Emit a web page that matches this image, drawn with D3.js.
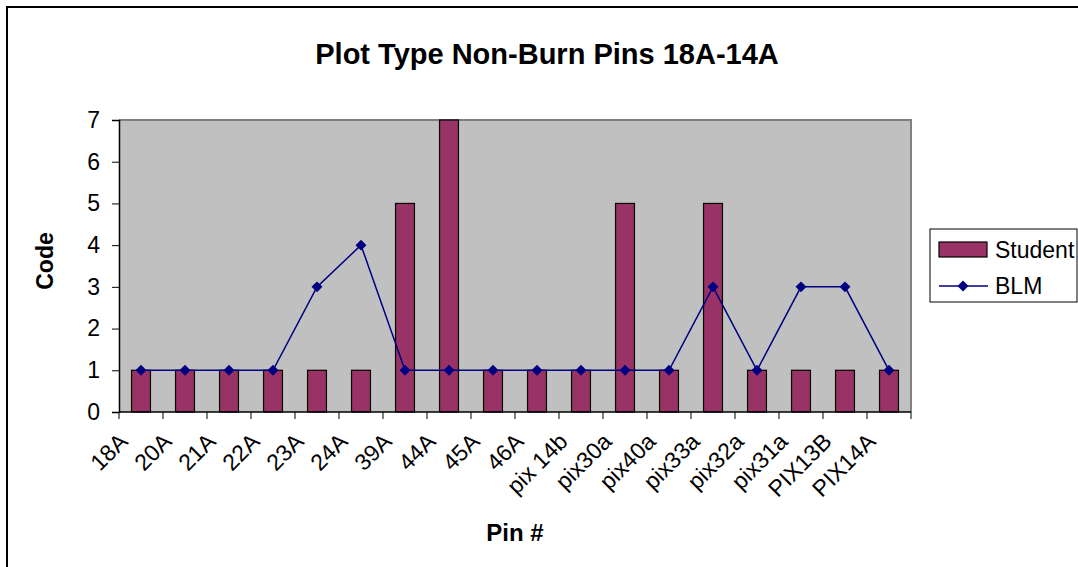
<!DOCTYPE html>
<html>
<head>
<meta charset="utf-8">
<script src="https://d3js.org/d3.v7.min.js"></script>
<style>
  body { margin: 0; background: #fff; }
  svg { display: block; font-family: Arial, "Liberation Sans", sans-serif; }
</style>
</head>
<body>
<svg id="chart"></svg>
<script>
    // chart data
    var pins = ["18A", "20A", "21A", "22A", "23A", "24A", "39A", "44A", "45A", "46A",
        "pix 14b", "pix30a", "pix40a", "pix33a", "pix32a", "pix31a", "PIX13B", "PIX14A"];
    var student = [1, 1, 1, 1, 1, 1, 5, 7, 1, 1, 1, 5, 1, 5, 1, 1, 1, 1];
    var blm = [1, 1, 1, 1, 3, 4, 1, 1, 1, 1, 1, 1, 1, 3, 1, 3, 3, 1];
    var yTicks = [0, 1, 2, 3, 4, 5, 6, 7];
    var seriesNames = ["Student", "BLM"];

    var width = 1078, height = 567;
    var plot = { left: 119, top: 120, right: 911, bottom: 412 };

    var svg = d3.select("#chart")
        .attr("width", width)
        .attr("height", height);

    // outer chart border (runs off the right and bottom edges)
    svg.append("rect")
        .attr("x", 7).attr("y", 7)
        .attr("width", 1200).attr("height", 700)
        .attr("fill", "#fff")
        .attr("stroke", "#000")
        .attr("stroke-width", 2);

    var x = d3.scaleBand()
        .domain(pins)
        .range([plot.left, plot.right])
        .padding(0);

    var y = d3.scaleLinear()
        .domain([0, 7])
        .range([plot.bottom, plot.top]);

    // plot area
    svg.append("rect")
        .attr("x", plot.left).attr("y", plot.top)
        .attr("width", plot.right - plot.left)
        .attr("height", plot.bottom - plot.top)
        .attr("fill", "#c0c0c0");
    svg.append("path")
        .attr("d", "M" + plot.left + "," + plot.top + "H" + plot.right + "V" + plot.bottom)
        .attr("fill", "none")
        .attr("stroke", "#808080")
        .attr("stroke-width", 2);

    // bars
    var barW = x.bandwidth() * 0.43;
    svg.append("g").selectAll("rect")
        .data(student)
        .enter().append("rect")
        .attr("x", (d, i) => x(pins[i]) + x.bandwidth() / 2 - barW / 2)
        .attr("y", d => y(d))
        .attr("width", barW)
        .attr("height", d => y(0) - y(d))
        .attr("fill", "#993366")
        .attr("stroke", "#000")
        .attr("stroke-width", 1.2);

    // y axis
    var yAxis = svg.append("g")
        .attr("transform", "translate(" + plot.left + ",0)")
        .call(d3.axisLeft(y).tickValues(yTicks).tickSize(7).tickPadding(12).tickFormat(d3.format("d")));
    yAxis.select(".domain").attr("stroke", "#000").attr("stroke-width", 1.5);
    yAxis.selectAll(".tick line").attr("stroke", "#000");
    yAxis.selectAll(".tick text")
        .style("font-size", "23px")
        .attr("fill", "#000");

    // x axis with ticks at category boundaries
    var xAxisG = svg.append("g");
    xAxisG.append("line")
        .attr("x1", plot.left).attr("x2", plot.right)
        .attr("y1", plot.bottom).attr("y2", plot.bottom)
        .attr("stroke", "#000").attr("stroke-width", 1.5);
    var bounds = pins.map(p => x(p)).concat([plot.right]);
    xAxisG.selectAll(".xtick")
        .data(bounds)
        .enter().append("line")
        .attr("x1", d => d).attr("x2", d => d)
        .attr("y1", plot.bottom).attr("y2", plot.bottom + 7)
        .attr("stroke", "#000");
    xAxisG.selectAll(".xlabel")
        .data(pins)
        .enter().append("text")
        .attr("transform", d => "translate(" + (x(d) + x.bandwidth() / 2 - 12) + "," + (plot.bottom + 31) + ") rotate(-45)")
        .attr("text-anchor", "end")
        .style("font-size", "23px")
        .text(d => d);

    // BLM line
    var line = d3.line()
        .x((d, i) => x(pins[i]) + x.bandwidth() / 2)
        .y(d => y(d));
    svg.append("path")
        .datum(blm)
        .attr("d", line)
        .attr("fill", "none")
        .attr("stroke", "#000080")
        .attr("stroke-width", 1.5);
    var diamond = d3.symbol().type(d3.symbolSquare).size(60);
    svg.append("g").selectAll("path")
        .data(blm)
        .enter().append("path")
        .attr("d", diamond)
        .attr("transform", (d, i) => "translate(" + (x(pins[i]) + x.bandwidth() / 2) + "," + y(d) + ") rotate(45)")
        .attr("fill", "#000080");

    // titles
    svg.append("text")
        .attr("x", 547).attr("y", 64)
        .attr("text-anchor", "middle")
        .style("font-size", "29px").style("font-weight", "bold")
        .text("Plot Type Non-Burn Pins 18A-14A");
    svg.append("text")
        .attr("x", 515).attr("y", 541)
        .attr("text-anchor", "middle")
        .style("font-size", "24px").style("font-weight", "bold")
        .text("Pin #");
    svg.append("text")
        .attr("transform", "translate(53,261) rotate(-90)")
        .attr("text-anchor", "middle")
        .style("font-size", "23px").style("font-weight", "bold")
        .text("Code");

    // legend
    var lg = svg.append("g");
    lg.append("rect")
        .attr("x", 930).attr("y", 229)
        .attr("width", 147).attr("height", 73)
        .attr("fill", "#fff").attr("stroke", "#000");
    lg.append("rect")
        .attr("x", 939).attr("y", 242)
        .attr("width", 48).attr("height", 15)
        .attr("fill", "#993366").attr("stroke", "#000").attr("stroke-width", 1.2);
    lg.append("line")
        .attr("x1", 939).attr("x2", 988)
        .attr("y1", 286).attr("y2", 286)
        .attr("stroke", "#000080").attr("stroke-width", 1.5);
    lg.append("path")
        .attr("d", diamond)
        .attr("transform", "translate(963,286) rotate(45)")
        .attr("fill", "#000080");
    lg.selectAll(".ltext")
        .data(seriesNames)
        .enter().append("text")
        .attr("x", 995)
        .attr("y", (d, i) => 258 + i * 36)
        .style("font-size", "23px")
        .text(d => d);
</script>
</body>
</html>
